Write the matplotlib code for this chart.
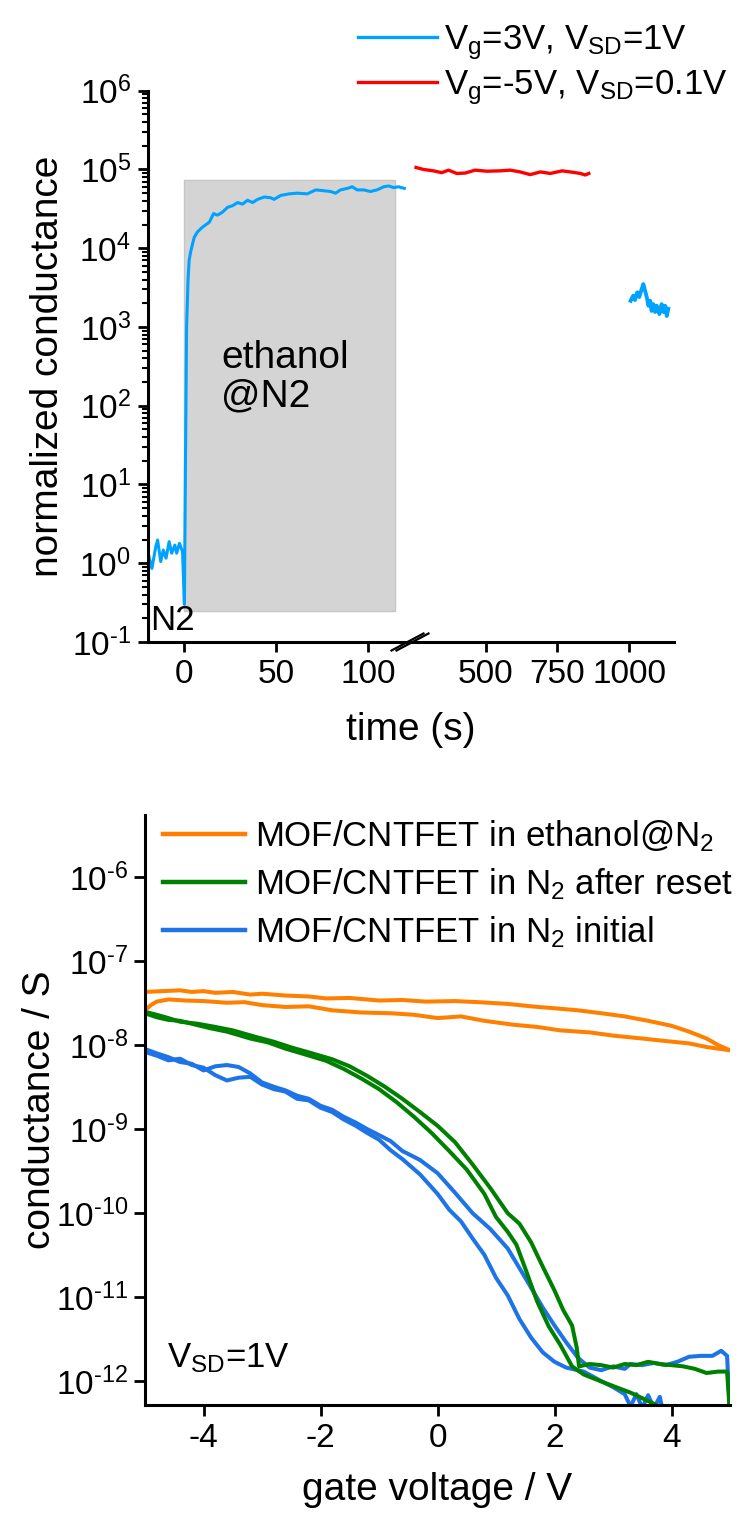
import math
import matplotlib
matplotlib.use("Agg")
import matplotlib.pyplot as plt
from matplotlib.lines import Line2D
from matplotlib.ticker import LogLocator, NullFormatter, NullLocator, FuncFormatter

# ─── fonts ─────────────────────────────────────
plt.rcParams['font.family'] = ['Liberation Sans', 'DejaVu Sans']
plt.rcParams['mathtext.fontset'] = 'custom'
plt.rcParams['mathtext.rm'] = 'Liberation Sans'
plt.rcParams['mathtext.it'] = 'Liberation Sans:italic'
plt.rcParams['mathtext.bf'] = 'Liberation Sans:bold'
plt.rcParams['mathtext.default'] = 'regular'
plt.rcParams['axes.unicode_minus'] = False

# ─── top panel data: normalized conductance vs time ───
T_START = [-19.8, -17.7, -15.6, -14.6, -12.9, -11.5, -10.0, -8.3, -6.9, -5.2, -4.2, -2.7, -1.0,
           0.0, 0.6, 1.2, 2.0, 2.6, 3.3, 4.5, 5.4, 7.2, 10.0, 13.6, 15.9, 18.1, 20.8, 23.6,
           26.3, 29.0, 31.7, 34.4, 37.1, 39.9, 43.5, 47.1, 48.9, 52.5, 57.0, 61.6, 67.0,
           71.6, 76.0, 79.7, 82.4, 85.1, 88.8, 91.5, 94.2, 97.8, 101.4, 105.0, 108.7,
           111.4, 114.1, 116.8, 119.9]
G_START = [1.34, 0.86, 1.62, 1.97, 1.05, 1.47, 1.16, 1.88, 1.34, 1.70, 1.34, 1.79, 1.40,
           0.30, 20, 1.0e3, 4.0e3, 7.0e3, 8.7e3, 1.15e4, 1.38e4, 1.62e4, 1.86e4, 2.14e4,
           2.75e4, 2.63e4, 2.88e4, 3.31e4, 3.47e4, 3.80e4, 3.63e4, 4.07e4, 3.80e4, 4.17e4,
           4.47e4, 4.37e4, 4.17e4, 4.68e4, 4.90e4, 5.00e4, 4.90e4, 5.50e4, 5.37e4, 5.25e4,
           5.00e4, 5.50e4, 5.75e4, 6.03e4, 5.50e4, 5.50e4, 5.25e4, 5.50e4, 6.03e4, 6.17e4,
           5.89e4, 6.03e4, 5.75e4]

T_RED = [257, 283, 318, 347, 370, 399, 428, 463, 504, 550, 585, 620, 655, 690, 725, 766,
         795, 830, 847, 859]
G_RED = [1.06e5, 1.00e5, 9.6e4, 9.1e4, 9.8e4, 8.9e4, 9.0e4, 9.8e4, 9.5e4, 9.6e4, 9.8e4,
         9.3e4, 8.6e4, 9.3e4, 8.9e4, 9.6e4, 9.3e4, 8.9e4, 8.5e4, 8.9e4]

T_END = [1005, 1014, 1020, 1028, 1035, 1043, 1049, 1055, 1061, 1067, 1073, 1078, 1084, 1090,
         1096, 1105, 1113, 1119, 1125, 1131, 1136]
G_END = [2.15e3, 2.5e3, 2.2e3, 2.75e3, 2.4e3, 3.0e3, 3.5e3, 2.9e3, 2.4e3, 1.86e3, 2.15e3,
         1.6e3, 1.95e3, 1.55e3, 1.86e3, 1.46e3, 1.95e3, 1.55e3, 1.86e3, 1.38e3, 1.7e3]

BOX_T = [0, 115]
BOX_LO = 0.245
BOX_HI = 7.4e4

# ─── bottom panel data: conductance vs gate voltage ───
V_OR_UP = [-5.0, -4.7, -4.4, -4.2, -4.0, -3.8, -3.5, -3.2, -3.0, -2.6, -2.2, -1.9, -1.5, -1.0,
           -0.6, -0.2, 0.3, 0.7, 1.2, 1.6, 2.0, 2.4, 2.8, 3.2, 3.6, 4.0, 4.3, 4.6, 4.8, 5.0]
G_OR_UP = [4.3e-8, 4.4e-8, 4.5e-8, 4.3e-8, 4.4e-8, 4.2e-8, 4.3e-8, 4.0e-8, 4.1e-8, 3.9e-8,
           3.8e-8, 3.6e-8, 3.65e-8, 3.4e-8, 3.45e-8, 3.3e-8, 3.35e-8, 3.25e-8, 3.1e-8, 2.9e-8,
           2.75e-8, 2.6e-8, 2.4e-8, 2.2e-8, 1.95e-8, 1.7e-8, 1.45e-8, 1.2e-8, 1.0e-8, 8.7e-9]
V_OR_LO = [-5.0, -4.9, -4.8, -4.6, -4.3, -4.0, -3.6, -3.3, -3.0, -2.6, -2.2, -1.8, -1.3, -0.8,
           -0.4, 0.0, 0.4, 0.8, 1.3, 1.7, 2.1, 2.6, 3.0, 3.5, 3.9, 4.3, 4.6, 5.0]
G_OR_LO = [2.6e-8, 3.0e-8, 3.3e-8, 3.5e-8, 3.4e-8, 3.35e-8, 3.2e-8, 3.25e-8, 3.0e-8, 2.85e-8,
           2.9e-8, 2.6e-8, 2.45e-8, 2.4e-8, 2.3e-8, 2.1e-8, 2.2e-8, 1.95e-8, 1.75e-8, 1.65e-8,
           1.5e-8, 1.42e-8, 1.3e-8, 1.2e-8, 1.12e-8, 1.05e-8, 9.5e-9, 8.7e-9]

V_GR_A = [-5.0, -4.8, -4.6, -4.4, -4.2, -3.9, -3.6, -3.2, -2.9, -2.6, -2.3, -1.9, -1.6, -1.3,
          -1.0, -0.7, -0.4, -0.1, 0.2, 0.5, 0.8, 1.0, 1.2, 1.35, 1.5, 1.7, 1.9, 2.1, 2.3, 2.5,
          2.9, 3.3, 3.6, 3.9]
G_GR_A = [2.4e-8, 2.15e-8, 2.0e-8, 1.95e-8, 1.8e-8, 1.6e-8, 1.45e-8, 1.2e-8, 1.08e-8, 9.1e-9,
          7.9e-9, 6.5e-9, 5.2e-9, 4.0e-9, 3.0e-9, 2.1e-9, 1.4e-9, 9.0e-10, 5.5e-10, 3.3e-10,
          1.7e-10, 9.0e-11, 6.0e-11, 4.2e-11, 2.2e-11, 9.0e-12, 4.5e-12, 2.7e-12, 1.5e-12,
          1.2e-12, 9.3e-13, 7.3e-13, 5.8e-13, 4.6e-13]
V_GR_B = [-5.0, -4.8, -4.6, -4.4, -4.1, -3.8, -3.5, -3.1, -2.8, -2.5, -2.2, -1.8, -1.5, -1.2,
          -0.9, -0.6, -0.3, 0.0, 0.3, 0.6, 0.9, 1.2, 1.4, 1.6, 1.8, 2.0, 2.15, 2.3, 2.38, 2.42,
          2.6, 2.8, 3.0, 3.2, 3.4, 3.6, 3.8, 4.0, 4.2, 4.4, 4.6, 4.8, 4.95, 5.0]
G_GR_B = [2.5e-8, 2.3e-8, 2.1e-8, 1.9e-8, 1.8e-8, 1.65e-8, 1.5e-8, 1.25e-8, 1.1e-8, 9.4e-9,
          8.2e-9, 6.8e-9, 5.6e-9, 4.3e-9, 3.2e-9, 2.3e-9, 1.6e-9, 1.1e-9, 7.0e-10, 3.8e-10,
          2.0e-10, 1.0e-10, 7.5e-11, 4.5e-11, 2.3e-11, 1.2e-11, 7.0e-12, 4.6e-12, 2.5e-12,
          1.5e-12, 1.6e-12, 1.55e-12, 1.45e-12, 1.6e-12, 1.55e-12, 1.7e-12, 1.6e-12, 1.55e-12,
          1.5e-12, 1.4e-12, 1.25e-12, 1.3e-12, 1.3e-12, 4.0e-13]

V_BL_C = [-5.0, -4.8, -4.6, -4.4, -4.2, -4.0, -3.8, -3.6, -3.4, -3.2, -3.0, -2.8, -2.6, -2.4,
          -2.2, -2.0, -1.8, -1.6, -1.4, -1.2, -1.0, -0.8, -0.6, -0.3, 0.0, 0.2, 0.4, 0.6, 0.8,
          1.0, 1.2, 1.4, 1.6, 1.8, 2.0, 2.2, 2.5, 2.8, 3.0, 3.2, 3.3, 3.4, 3.5, 3.6, 3.7, 3.8,
          3.85]
G_BL_C = [8.3e-9, 7.5e-9, 6.6e-9, 6.9e-9, 5.8e-9, 5.4e-9, 4.4e-9, 3.8e-9, 4.1e-9, 4.2e-9,
          3.4e-9, 3.0e-9, 2.8e-9, 2.3e-9, 2.2e-9, 1.8e-9, 1.6e-9, 1.3e-9, 1.1e-9, 9.0e-10,
          7.5e-10, 5.6e-10, 4.4e-10, 2.9e-10, 1.7e-10, 1.1e-10, 8.0e-11, 5.0e-11, 3.2e-11,
          1.7e-11, 1.05e-11, 5.5e-12, 3.3e-12, 2.2e-12, 1.7e-12, 1.45e-12, 1.3e-12, 1.0e-12,
          8.5e-13, 7.0e-13, 5.0e-13, 7.0e-13, 4.8e-13, 6.8e-13, 4.8e-13, 6.5e-13, 4.5e-13]
V_BL_D = [-5.0, -4.8, -4.6, -4.4, -4.2, -4.0, -3.8, -3.6, -3.4, -3.2, -3.0, -2.8, -2.6, -2.4,
          -2.2, -2.0, -1.8, -1.6, -1.4, -1.2, -1.0, -0.8, -0.6, -0.3, 0.0, 0.3, 0.6, 0.9, 1.2,
          1.5, 1.8, 2.0, 2.2, 2.4, 2.6, 2.8, 3.0, 3.2, 3.3, 3.5, 3.7, 3.9, 4.1, 4.3, 4.5, 4.7,
          4.85, 4.95, 5.0]
G_BL_D = [9.0e-9, 8.0e-9, 7.2e-9, 6.3e-9, 6.0e-9, 5.0e-9, 5.6e-9, 5.8e-9, 5.5e-9, 4.6e-9,
          3.6e-9, 3.2e-9, 2.9e-9, 2.5e-9, 2.3e-9, 1.9e-9, 1.7e-9, 1.4e-9, 1.2e-9, 1.0e-9,
          8.5e-10, 7.2e-10, 5.5e-10, 4.3e-10, 3.0e-10, 1.75e-10, 1.0e-10, 6.5e-11, 3.8e-11,
          1.7e-11, 7.5e-12, 4.6e-12, 2.9e-12, 1.9e-12, 1.45e-12, 1.35e-12, 1.5e-12, 1.4e-12,
          1.6e-12, 1.55e-12, 1.65e-12, 1.55e-12, 1.7e-12, 1.95e-12, 2.0e-12, 2.0e-12, 2.3e-12,
          2.0e-12, 4.0e-13]

TOP_TICKS_L = [0, 50, 100]
TOP_TICKS_R = [500, 750, 1000]
GATE_TICKS = [-4, -2, 0, 2, 4]

SKY = '#00A2FF'
RED = '#FF0000'
ORANGE = '#FF8000'
GREEN = '#008000'
BLUE = '#1E73E6'

W, H = 737, 1519
TICK_FS = 24
LABEL_FS = 28
LEG_FS = 25


def px_rect(l, t, r, b):
    """pixel box (left, top, right, bottom) -> figure fraction rect"""
    return [l / W, 1 - b / H, (r - l) / W, (b - t) / H]


def decade_label(v, pos):
    # 10^n with a plain hyphen, like the original figure
    e = int(round(math.log10(v)))
    return r'$10^{%s}$' % str(e).replace('-', '\u2010')


def style_axis(ax):
    for s in ['top', 'right']:
        ax.spines[s].set_visible(False)
    for s in ['left', 'bottom']:
        ax.spines[s].set_linewidth(2.2)
    ax.tick_params(which='major', direction='out', length=7, width=2,
                   labelsize=TICK_FS, pad=5)
    ax.tick_params(which='minor', direction='out', length=4, width=1.5)


fig = plt.figure(figsize=(W / 100, H / 100), dpi=100)

# ─── top panel (broken x axis) ───
axL = fig.add_axes(px_rect(147.7, 90.7, 410, 642))
axR = fig.add_axes(px_rect(410, 90.7, 674, 642))

axL.fill_between(BOX_T, BOX_LO, BOX_HI, facecolor='#D4D4D4', edgecolor='#C6C6C6',
                 lw=1, zorder=0)
axL.plot(T_START, G_START, color=SKY, lw=2.2)
axR.plot(T_RED, G_RED, color=RED, lw=2.4)
axR.plot(T_END, G_END, color=SKY, lw=2.8)

for ax in (axL, axR):
    ax.set_yscale('log')
    ax.set_ylim(0.1, 1e6)
    ax.patch.set_visible(False)
    style_axis(ax)
axL.set_xlim(-20, 123)
axR.set_xlim(236, 1156)
axL.set_xticks(TOP_TICKS_L)
axR.set_xticks(TOP_TICKS_R)
axL.yaxis.set_major_locator(LogLocator(base=10, numticks=20))
axL.yaxis.set_major_formatter(FuncFormatter(decade_label))
axL.yaxis.set_minor_locator(LogLocator(base=10, subs=range(2, 10), numticks=20))
axL.yaxis.set_minor_formatter(NullFormatter())
axR.spines['left'].set_visible(False)
axR.yaxis.set_major_locator(NullLocator())
axR.yaxis.set_minor_locator(NullLocator())

# break marks on the time axis
for dx in (-2.5, 2.5):
    cx = 410 + dx
    fig.add_artist(Line2D([(cx - 16) / W, (cx + 16) / W],
                          [1 - (642 + 8.5) / H, 1 - (642 - 8.5) / H],
                          color='black', lw=1.6))

fig.text(48 / W, 1 - 366 / H, 'normalized conductance', rotation=90,
         ha='center', va='center', fontsize=LABEL_FS)
fig.text(411 / W, 1 - 730 / H, 'time (s)', ha='center', va='center', fontsize=LABEL_FS)
fig.text(221 / W, 1 - 377 / H, 'ethanol\n@N2', ha='left', va='center',
         fontsize=LABEL_FS, linespacing=1.1)
fig.text(150 / W, 1 - 620 / H, 'N2', ha='left', va='center', fontsize=LEG_FS)

top_handles = [Line2D([], [], color=SKY, lw=2.4), Line2D([], [], color=RED, lw=2.4)]
fig.legend(top_handles,
           [r'V$_{g}$=3V, V$_{SD}$=1V', r'V$_{g}$=-5V, V$_{SD}$=0.1V'],
           loc='upper left', bbox_to_anchor=(358 / W, 1 - 23 / H), frameon=False,
           fontsize=LEG_FS, handlelength=2.28, handletextpad=0.2, labelspacing=0.19,
           borderpad=0, borderaxespad=0)

# ─── bottom panel ───
axB = fig.add_axes(px_rect(145, 815, 730, 1405))
axB.plot(V_BL_C, G_BL_C, color=BLUE, lw=2.9)
axB.plot(V_BL_D, G_BL_D, color=BLUE, lw=2.9)
axB.plot(V_GR_A, G_GR_A, color=GREEN, lw=2.9)
axB.plot(V_GR_B, G_GR_B, color=GREEN, lw=2.9)
axB.plot(V_OR_UP, G_OR_UP, color=ORANGE, lw=2.9)
axB.plot(V_OR_LO, G_OR_LO, color=ORANGE, lw=2.9)
axB.set_yscale('log')
axB.set_ylim(5.2e-13, 5.5e-6)
axB.set_xlim(-5, 5)
axB.set_xticks(GATE_TICKS)
axB.yaxis.set_major_locator(LogLocator(base=10, numticks=20))
axB.yaxis.set_major_formatter(FuncFormatter(decade_label))
axB.yaxis.set_minor_locator(NullLocator())
style_axis(axB)
axB.tick_params(which='major', length=8)
axB.tick_params(axis='y', pad=4)

fig.text(40 / W, 1 - 1110 / H, 'conductance / S', rotation=90,
         ha='center', va='center', fontsize=LABEL_FS)
fig.text(437 / W, 1 - 1490 / H, 'gate voltage / V', ha='center', va='center',
         fontsize=LABEL_FS)
fig.text(167 / W, 1 - 1358 / H, r'V$_{SD}$=1V', ha='left', va='center', fontsize=LEG_FS)

bot_handles = [Line2D([], [], color=ORANGE, lw=3.2),
               Line2D([], [], color=GREEN, lw=3.2),
               Line2D([], [], color=BLUE, lw=3.2)]
fig.legend(bot_handles,
           [r'MOF/CNTFET in ethanol@N$_{2}$',
            r'MOF/CNTFET in N$_{2}$ after reset',
            r'MOF/CNTFET in N$_{2}$ initial'],
           loc='upper left', bbox_to_anchor=(163 / W, 1 - 818 / H), frameon=False,
           fontsize=LEG_FS, handlelength=2.36, handletextpad=0.3, labelspacing=0.36,
           borderpad=0, borderaxespad=0)

fig.savefig('out.png', dpi=100)
plt.close(fig)
